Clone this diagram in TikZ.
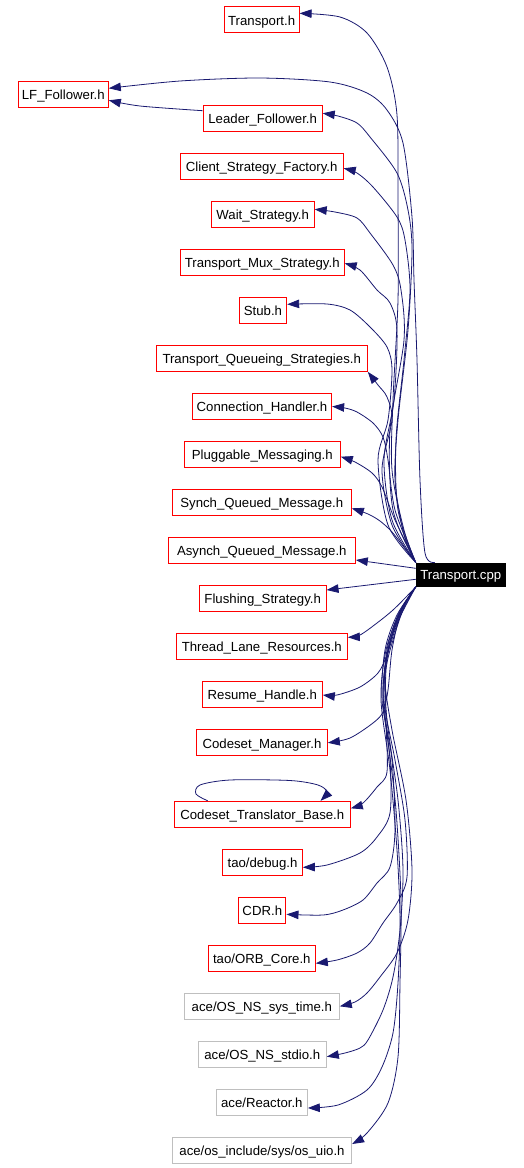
\documentclass[tikz,border=0pt]{standalone}
\usepackage{fontspec}
\setmainfont{Liberation Sans}
\usetikzlibrary{arrows.meta}
\definecolor{edgeblue}{HTML}{191970}
\definecolor{boxred}{HTML}{FF0000}
\definecolor{boxgray}{HTML}{BFBFBF}
\begin{document}
\begin{tikzpicture}[x=1pt,y=-1pt,
  hdr/.style={draw=boxred, line width=1pt, minimum height=25.7pt, inner sep=0pt,
    text height=10.7pt, text depth=0pt,
    font=\fontsize{13.2}{15}\selectfont, text=black},
  ext/.style={hdr, draw=boxgray},
  src/.style={fill=black, text=white, minimum width=89.7pt, minimum height=24pt,
    inner sep=0pt, text height=10.4pt, text depth=0pt, font=\fontsize{13.2}{15}\selectfont},
  edge/.style={draw=edgeblue, line width=0.8pt, line join=round,
    -{Triangle[length=12pt,width=8.5pt]}},
  sm/.style={smooth, tension=0.5}
]
\useasboundingbox (0,0) rectangle (523,1168);

% nodes
\node[hdr, minimum width=75pt]    (th)   at (261.6,19.8)  {Transport.h};
\node[hdr, minimum width=90pt]    (lf)   at (63.3,94.3)   {LF\_Follower.h};
\node[hdr, minimum width=119pt]   (ldr)  at (262.7,118.5) {Leader\_Follower.h};
\node[hdr, minimum width=163pt]   (csf)  at (261.7,166.5) {Client\_Strategy\_Factory.h};
\node[hdr, minimum width=103pt]   (ws)   at (262.7,214.5) {Wait\_Strategy.h};
\node[hdr, minimum width=164pt]   (tms)  at (262.2,262.5) {Transport\_Mux\_Strategy.h};
\node[hdr, minimum width=47.3pt]  (stub) at (263,310.3)   {Stub.h};
\node[hdr, minimum width=211.3pt] (tqs)  at (261.7,358.5) {Transport\_Queueing\_Strategies.h};
\node[hdr, minimum width=139.3pt] (ch)   at (262,406.5)   {Connection\_Handler.h};
\node[hdr, minimum width=156pt]   (pm)   at (262.3,454.5) {Pluggable\_Messaging.h};
\node[hdr, minimum width=179pt]   (sqm)  at (261.8,502.2) {Synch\_Queued\_Message.h};
\node[hdr, minimum width=187pt]   (aqm)  at (261.8,550.3) {Asynch\_Queued\_Message.h};
\node[hdr, minimum width=126.7pt] (fs)   at (262.7,598.5) {Flushing\_Strategy.h};
\node[hdr, minimum width=171pt]   (tlr)  at (261.8,646.5) {Thread\_Lane\_Resources.h};
\node[hdr, minimum width=120pt]   (rh)   at (262.3,694.5) {Resume\_Handle.h};
\node[hdr, minimum width=130.7pt] (cm)   at (262,742.8)   {Codeset\_Manager.h};
\node[hdr, minimum width=176pt]   (ctb)  at (262.3,814.2) {Codeset\_Translator\_Base.h};
\node[hdr, minimum width=79.7pt]  (dbg)  at (262.5,862.2) {tao/debug.h};
\node[hdr, minimum width=47.3pt]  (cdr)  at (262.3,910.2) {CDR.h};
\node[hdr, minimum width=107pt]   (orb)  at (261.8,958.5) {tao/ORB\_Core.h};
\node[ext, minimum width=155pt]   (systime) at (261.8,1006.3) {ace/OS\_NS\_sys\_time.h};
\node[ext, minimum width=128pt]   (stdio)   at (262.3,1054.3) {ace/OS\_NS\_stdio.h};
\node[ext, minimum width=91pt]    (reactor) at (261.8,1102.3) {ace/Reactor.h};
\node[ext, minimum width=179.3pt] (uio)     at (262,1150.3)   {ace/os\_include/sys/os\_uio.h};
\node[src] (cpp) at (460.8,574.7) {Transport.cpp};

% upper edges
\draw[edge] plot[sm] coordinates {(cpp.north west) (404,530) (392,470) (393,400) (398,300) (398,200) (397,115) (387,67) (367,33) (340,17) ([yshift=6.5pt]th.east)};
\draw[edge] plot[sm] coordinates {([xshift=19pt]cpp.north west) (425,553) (420,480) (417,360) (414,280) (412,217) (403,143) (387,110) (367,93) (330,82) (260,78) (180,81) ([yshift=6pt]lf.east)};
\draw[edge] plot[sm] coordinates {([yshift=7.8pt]ldr.west) (140,106) ([yshift=-6pt]lf.east)};
\draw[edge] plot[sm] coordinates {(cpp.north west) (404,535) (395,480) (398,420) (408,330) (412,250) (408,210) (397,173) (370,137) (357,123) (338,116) ([yshift=5.2pt]ldr.east)};
\draw[edge] plot[sm] coordinates {(cpp.north west) (398,510) (396,440) (404,360) (410,290) (405,240) (397,217) (373,187) (357,173) ([yshift=-1.8pt]csf.east)};
\draw[edge] plot[sm] coordinates {(cpp.north west) (393,510) (390,430) (404,340) (401,290) (393,265) (370,233) (357,218) (335,212) ([yshift=5.2pt]ws.east)};
\draw[edge] plot[sm] coordinates {(cpp.north west) (392,520) (384,460) (394,400) (397,330) (390,303) (377,290) (360,270) ([yshift=-0.8pt]tms.east)};
\draw[edge] plot[sm] coordinates {(cpp.north west) (388,525) (378,460) (388,420) (392,370) (387,347) (370,327) (350,310) (327,304) ([yshift=6pt]stub.east)};
\draw[edge] plot[sm] coordinates {(cpp.north west) (392,525) (382,470) (392,420) (387,397) (378,385) (tqs.south east)};
\draw[edge] plot[sm] coordinates {(cpp.north west) (395,510) (388,460) (383,437) (373,423) (357,412) (345,408) (ch.east)};
\draw[edge] plot[sm] coordinates {(cpp.north west) (395,520) (382,487) (372,473) (355,462) ([yshift=-2.2pt]pm.east)};
\draw[edge] plot[sm] coordinates {(cpp.north west) (406,550) (392,532) (380,521) (368,514) ([yshift=-6.1pt]sqm.east)};
\draw[edge] ([yshift=6.4pt]cpp.west) -- ([yshift=-9.7pt]aqm.east);
\draw[edge] ([yshift=-4.6pt]cpp.west) -- ([yshift=8.5pt]fs.east);

% lower edges
\draw[edge] plot[sm] coordinates {(cpp.south west) (410,593) (393,610) (377,623) (360,635) ([yshift=9.2pt]tlr.east)};
\draw[edge] plot[sm] coordinates {(cpp.south west) (407,600) (395,630) (387,655) (378,673) (360,687) (337,695) ([yshift=-0.5pt]rh.east)};
\draw[edge] plot[sm] coordinates {(cpp.south west) (410,595) (400,615) (392,650) (388,690) (383,712) (373,723) (350,738) (cm.east)};
\draw[edge] plot[sm] coordinates {(cpp.south west) (403,610) (393,640) (386,670) (386,720) (387,772) (377,787) (363,803) ([yshift=5.9pt]ctb.east)};
\draw[edge] plot[sm] coordinates {(cpp.south west) (398,615) (387,650) (383,700) (390,760) (390,813) (377,837) (360,853) (327,865) ([yshift=-5.1pt]dbg.east)};
\draw[edge] plot[sm] coordinates {(cpp.south west) (397,615) (385,650) (382,700) (392,760) (395,830) (390,867) (377,883) (363,900) (343,910) (323,915) ([yshift=-4.1pt]cdr.east)};
\draw[edge] plot[sm] coordinates {(cpp.south west) (400,612) (388,650) (384,700) (395,760) (405,820) (407,877) (397,903) (383,923) (370,943) (357,953) (337,960) ([yshift=-4.8pt]orb.east)};
\draw[edge] plot[sm] coordinates {(cpp.south west) (403,607) (391,640) (385,680) (392,730) (406,800) (412,870) (408,920) (397,953) (380,977) (367,993) (355,1002) (systime.east)};
\draw[edge] plot[sm] coordinates {(cpp.south west) (394,630) (385,670) (387,720) (398,800) (403,870) (400,930) (393,977) (383,1010) (368,1040) (360,1048) (345,1053) ([yshift=-2.4pt]stdio.east)};
\draw[edge] plot[sm] coordinates {(cpp.south west) (400,612) (386,650) (381,700) (390,770) (397,850) (400,920) (398,983) (393,1033) (382,1067) (367,1090) (338,1105) ([yshift=-5.7pt]reactor.east)};
\draw[edge] plot[sm] coordinates {(cpp.south west) (402,608) (389,645) (383,690) (388,740) (396,810) (401,900) (400,983) (398,1057) (388,1103) (367,1133) ([yshift=6.3pt]uio.east)};

% self loop
\draw[edge] plot[sm] coordinates {([xshift=34pt]ctb.north west) (196,794) (200,785) (230,780) (290,780.5) (318,785) (327,792) ([xshift=-30.3pt]ctb.north east)};
\end{tikzpicture}
\end{document}
